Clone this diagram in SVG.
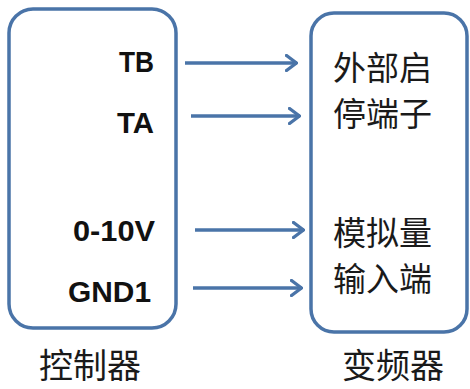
<svg xmlns="http://www.w3.org/2000/svg" width="470" height="389" viewBox="0 0 470 389">
<defs>
<style>
.box{fill:#ffffff;stroke:#4a74a8;stroke-width:3.5}
.pin{font-family:"Liberation Sans",Arial,sans-serif;font-weight:bold;font-size:29px;fill:#111;text-anchor:end}
.cn{font-family:"Noto Sans CJK SC","Noto Sans",sans-serif;font-size:33px;fill:#1a1a1a}
.cap{font-size:34px}
.conn line{stroke:#4a74a8;stroke-width:3.5;fill:none}
</style>
<marker id="arr" viewBox="0 0 13 18" refX="12" refY="9" markerWidth="13" markerHeight="18" markerUnits="userSpaceOnUse" orient="auto">
<path d="M1.5,1.5 L11.5,9 L1.5,16.5" fill="none" stroke="#4a74a8" stroke-width="3.4" stroke-linecap="round" stroke-linejoin="round"/>
</marker>
</defs>
<rect width="470" height="389" fill="#ffffff"/>
<g id="controller">
<rect class="box" x="9" y="9" width="167" height="319" rx="24" ry="24"/>
<text class="pin" x="154" y="72" textLength="35" lengthAdjust="spacingAndGlyphs">TB</text>
<text class="pin" x="154" y="133" textLength="37" lengthAdjust="spacingAndGlyphs">TA</text>
<text class="pin" x="155" y="241" textLength="82" lengthAdjust="spacingAndGlyphs">0-10V</text>
<text class="pin" x="151" y="302" textLength="83" lengthAdjust="spacingAndGlyphs">GND1</text>
<text class="cn cap" x="39" y="378">控制器</text>
</g>
<g id="inverter">
<rect class="box" x="311" y="13" width="156" height="319" rx="23" ry="23"/>
<text class="cn" x="333" y="80">外部启</text>
<text class="cn" x="333" y="126">停端子</text>
<text class="cn" x="333" y="245">模拟量</text>
<text class="cn" x="333" y="291">输入端</text>
<text class="cn cap" x="342" y="378">变频器</text>
</g>
<g id="connectors" class="conn">
<line x1="185" y1="63" x2="297" y2="63" marker-end="url(#arr)"/>
<line x1="191" y1="116" x2="300" y2="116" marker-end="url(#arr)"/>
<line x1="195" y1="230" x2="304" y2="230" marker-end="url(#arr)"/>
<line x1="193" y1="288" x2="302" y2="288" marker-end="url(#arr)"/>
</g>
</svg>
